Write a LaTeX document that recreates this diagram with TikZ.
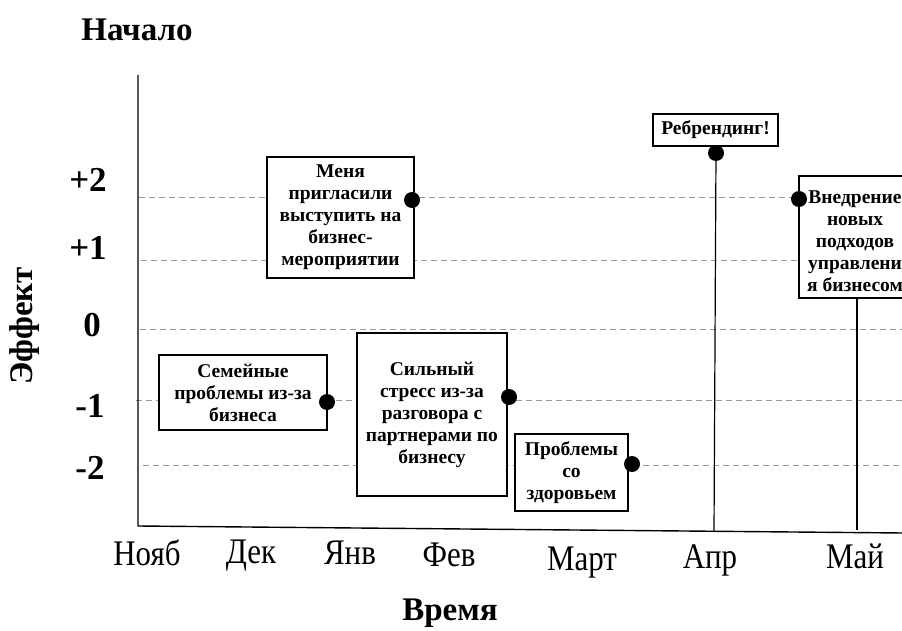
\documentclass[tikz,border=0pt]{standalone}
\usepackage{fontspec}
\setmainfont{Liberation Serif}
\newfontfamily\monthfont[FakeStretch=0.86]{Liberation Serif}
\tikzset{
  evbox/.style={draw=black, line width=1.3pt, fill=white, inner sep=0pt, align=center,
    font=\bfseries\fontsize{19.5}{22}\selectfont},
  evtext/.style={inner sep=0pt, align=center, font=\bfseries\fontsize{19.5}{22}\selectfont},
  evdot/.style={circle, fill=black, inner sep=0pt, minimum size=16pt},
  gridline/.style={draw=black!40, dash pattern=on 6pt off 4pt, line width=1pt},
  axisline/.style={draw=black, line width=1.4pt},
  stem/.style={draw=black, line width=1.2pt},
  ticklab/.style={font=\bfseries\fontsize{35}{38}\selectfont, inner sep=0pt},
  month/.style={font=\monthfont\fontsize{36}{40}\selectfont, inner sep=0pt, anchor=base},
  title/.style={font=\bfseries\fontsize{33}{38}\selectfont, inner sep=0pt}
}
\begin{document}
\begin{tikzpicture}[x=1pt,y=-1pt]
\useasboundingbox (0,0) rectangle (902,631);
% axes
\coordinate (ytop) at (138,75);
\coordinate (orig) at (138,526);
\coordinate (xend) at (903,533);
% grid lines
\draw[gridline] (139,198) -- (902,198);
\draw[gridline] (141,260) -- (902,260);
\draw[gridline] (140,329) -- (902,329);
\draw[gridline] (136,400) -- (902,400);
\draw[gridline] (143,465) -- (902,465);
\draw[axisline] (ytop) -- (orig) -- (xend);
% stems
\coordinate (p2) at (716,153);
\coordinate (a2) at (714,532);
\coordinate (a3) at (857,530);
\draw[stem] (p2) -- (a2);
% boxes
\node[evbox, minimum width=147pt, minimum height=121pt] (e1) at (340.5,217.5)
  {Меня\\пригласили\\выступить на\\бизнес-\\мероприятии};
\node[evbox, minimum width=125pt, minimum height=32pt] (e2) at (715.5,130) {Ребрендинг!};
\node[evbox, minimum width=118pt, minimum height=122pt] (e3) at (858,237) {};
\node[evtext] (e3t) at (855,241)
  {Внедрение\\новых\\подходов\\управлени\\я бизнесом};
\node[evbox, minimum width=168pt, minimum height=75pt] (e4) at (243,392.5)
  {Семейные\\проблемы из-за\\бизнеса};
\node[evbox, minimum width=150pt, minimum height=163pt] (e5) at (432,414.5)
  {Сильный\\стресс из-за\\разговора с\\партнерами по\\бизнесу};
\node[evbox, minimum width=113pt, minimum height=77pt] (e6) at (571.5,472.5)
  {Проблемы\\со\\здоровьем};
\draw[stem] (e3.south -| a3) -- (a3);
% dots
\node[evdot] (d2) at (p2) {};
\node[evdot] (d1) at (412,200) {};
\node[evdot] (d3) at (799,199) {};
\node[evdot] (d4) at (327,402) {};
\node[evdot] (d5) at (509,397) {};
\node[evdot] (d6) at (632,464) {};
% tick labels
\node[ticklab] (t2) at (88,180) {+2};
\node[ticklab] (t1) at (88,248) {+1};
\node[ticklab] (t0) at (92,325) {0};
\node[ticklab] (tm1) at (90,406) {-1};
\node[ticklab] (tm2) at (90,468) {-2};
% months
\node[month] (m1) at (147,565) {Нояб};
\node[month] (m2) at (251,563) {Дек};
\node[month] (m3) at (350,564) {Янв};
\node[month] (m4) at (449,566) {Фев};
\node[month] (m5) at (582,570) {Март};
\node[month] (m6) at (710,568) {Апр};
\node[month] (m7) at (855,568) {Май};
% titles
\node[title] (start) at (137,30) {Начало};
\node[title] (time) at (450,613) {Время};
\node[title, rotate=90] (eff) at (25,326) {Эффект};
\end{tikzpicture}
\end{document}
